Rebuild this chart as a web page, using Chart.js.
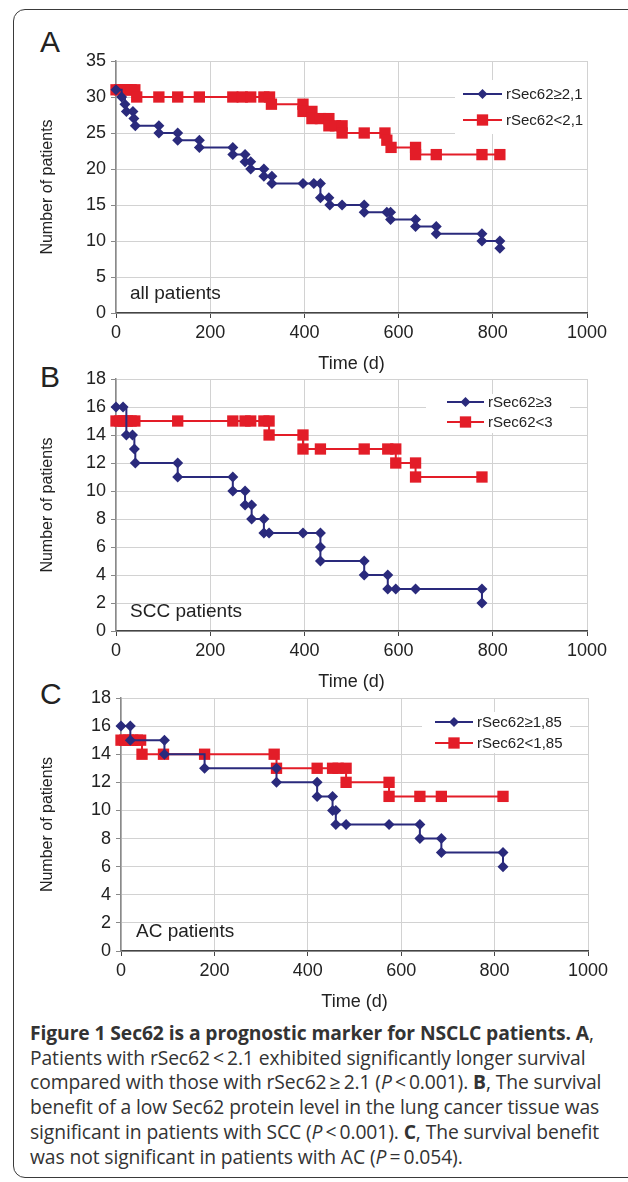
<!DOCTYPE html>
<html>
<head>
<meta charset="utf-8">
<script src="https://cdn.jsdelivr.net/npm/chart.js@4.4.0/dist/chart.umd.min.js"></script>
<style>
body { margin:0; width:628px; height:1182px; background:#fff; position:relative; overflow:hidden; font-family:"Liberation Sans", Arial, sans-serif; }
.frame { position:absolute; left:13px; top:9px; width:660px; height:1167px; border:1.5px solid #3a3a3a; border-radius:12px; }
.panel { position:absolute; left:0; width:628px; }
.letter { position:absolute; left:40px; font-size:30px; line-height:30px; color:#222; }
.caption { position:absolute; left:30px; top:1021px; font-family:"Open Sans", sans-serif; font-size:19.3px; line-height:24.7px; color:#333; white-space:nowrap; letter-spacing:-0.1px; }
</style>
</head>
<body>
<div class="frame"></div>
<div class="letter" style="top:27px">A</div>
<div class="letter" style="top:362px">B</div>
<div class="letter" style="top:679px">C</div>

<div class="panel" style="top:40px;height:337px"><canvas id="chartA"></canvas></div>
<div class="panel" style="top:358px;height:337px"><canvas id="chartB"></canvas></div>
<div class="panel" style="top:677px;height:338px"><canvas id="chartC"></canvas></div>

<div class="caption">
<b>Figure 1 Sec62 is a prognostic marker for NSCLC patients. A</b>,<br>
Patients with rSec62&#8201;&lt;&#8201;2.1 exhibited significantly longer survival<br>
compared with those with rSec62&#8201;&ge;&#8201;2.1 (<i>P</i>&#8201;&lt;&#8201;0.001). <b>B</b>, The survival<br>
benefit of a low Sec62 protein level in the lung cancer tissue was<br>
significant in patients with SCC (<i>P</i>&#8201;&lt;&#8201;0.001). <b>C</b>, The survival benefit<br>
was not significant in patients with AC (<i>P</i>&#8201;=&#8201;0.054).
</div>

<script>
// panel A: all patients
var timeA_hi = [0, 12, 19, 22, 36, 38, 41, 91, 91, 131, 131, 177, 177, 248, 248, 274, 274, 286, 286, 314, 314, 331, 331, 397, 420, 434, 434, 452, 454, 480, 527, 527, 575, 583, 583, 636, 636, 680, 680, 777, 777, 815, 815];
var numA_hi  = [31, 30, 29, 28, 28, 27, 26, 26, 25, 25, 24, 24, 23, 23, 22, 22, 21, 21, 20, 20, 19, 19, 18, 18, 18, 18, 16, 16, 15, 15, 15, 14, 14, 14, 13, 13, 12, 12, 11, 11, 10, 10, 9];
var timeA_lo = [0, 8, 16, 24, 32, 40, 44, 91, 131, 177, 248, 268, 286, 314, 326, 330, 397, 397, 416, 416, 434, 452, 452, 466, 480, 480, 527, 571, 575, 584, 636, 636, 680, 777, 815];
var numA_lo  = [31, 31, 31, 31, 31, 31, 30, 30, 30, 30, 30, 30, 30, 30, 30, 29, 29, 28, 28, 27, 27, 27, 26, 26, 26, 25, 25, 25, 24, 23, 23, 22, 22, 22, 22];

// panel B: SCC patients
var timeB_hi = [0, 15, 22, 35, 39, 41, 131, 131, 248, 248, 274, 274, 288, 288, 314, 314, 325, 397, 434, 434, 434, 527, 527, 577, 577, 594, 636, 777, 777];
var numB_hi  = [16, 16, 14, 14, 13, 12, 12, 11, 11, 10, 10, 9, 9, 8, 8, 7, 7, 7, 7, 6, 5, 5, 4, 4, 3, 3, 3, 3, 2];
var timeB_lo = [0, 8, 16, 24, 32, 40, 131, 248, 274, 286, 314, 325, 325, 397, 397, 434, 527, 577, 594, 594, 636, 636, 777];
var numB_lo  = [15, 15, 15, 15, 15, 15, 15, 15, 15, 15, 15, 15, 14, 14, 13, 13, 13, 13, 13, 12, 12, 11, 11];

// panel C: AC patients
var timeC_hi = [0, 20, 20, 93, 93, 179, 333, 333, 420, 420, 453, 453, 460, 460, 482, 574, 640, 640, 686, 686, 818, 818];
var numC_hi  = [16, 16, 15, 15, 14, 13, 13, 12, 12, 11, 11, 10, 10, 9, 9, 9, 9, 8, 8, 7, 7, 6];
var timeC_lo = [0, 8, 16, 25, 35, 42, 45, 91, 179, 328, 333, 420, 453, 465, 482, 482, 574, 574, 640, 686, 818];
var numC_lo  = [15, 15, 15, 15, 15, 15, 14, 14, 14, 14, 13, 13, 13, 13, 13, 12, 12, 11, 11, 11, 11];

var xTicks = [0, 200, 400, 600, 800, 1000];

var BLUE = '#2a2a7c';
var RED = '#e31d28';
var FONT = '"Liberation Sans", Arial, sans-serif';

function points(xs, ys) {
  var out = [];
  for (var i = 0; i < xs.length; i++) out.push({x: xs[i], y: ys[i]});
  return out;
}

function marker(ctx, style, x, y, r) {
  ctx.beginPath();
  if (style == 'rect') {
    var s = r * Math.SQRT1_2;
    ctx.rect(x - s, y - s, 2 * s, 2 * s);
  } else {
    ctx.moveTo(x - r, y); ctx.lineTo(x, y - r); ctx.lineTo(x + r, y); ctx.lineTo(x, y + r); ctx.closePath();
  }
  ctx.fill();
}

// legend with line + marker, drawn over the grid and under the data
var stepLegend = {
  id: 'stepLegend',
  beforeDatasetsDraw: function(chart, args, o) {
    var ctx = chart.ctx;
    ctx.save();
    ctx.fillStyle = '#fff';
    ctx.fillRect(o.box[0], o.box[1], o.box[2], o.box[3]);
    chart.data.datasets.forEach(function(ds, i) {
      var y = o.rows[i];
      ctx.strokeStyle = ds.borderColor;
      ctx.lineWidth = 2;
      ctx.beginPath(); ctx.moveTo(o.x0, y); ctx.lineTo(o.x1, y); ctx.stroke();
      ctx.fillStyle = ds.borderColor;
      marker(ctx, ds.pointStyle, (o.x0 + o.x1) / 2, y, ds.pointStyle == 'rect' ? 8 : 5);
      ctx.fillStyle = '#222';
      ctx.font = '15px ' + FONT;
      ctx.textBaseline = 'middle';
      ctx.textAlign = 'left';
      ctx.fillText(ds.label, o.x1 + 4, y + 1);
    });
    ctx.restore();
  },
  afterDraw: function(chart, args, o) {
    var ctx = chart.ctx, a = chart.chartArea;
    ctx.save();
    ctx.fillStyle = '#222';
    ctx.font = '19px ' + FONT;
    ctx.textBaseline = 'middle';
    ctx.fillText(o.note, a.left + o.noteDx, a.bottom - 19);
    ctx.restore();
  }
};

function makeChart(id, hi, lo, labels, yMax, yStep, plotLeft, plotRight, legendOpts) {
  var ctx = document.getElementById(id).getContext('2d');
  return new Chart(ctx, {
    type: 'line',
    data: {
      datasets: [
        { label: labels[0], data: points(hi[0], hi[1]), stepped: true, borderColor: BLUE, backgroundColor: BLUE,
          borderWidth: 2, pointStyle: 'rectRot', pointRadius: 5.5, pointBorderWidth: 0, clip: false },
        { label: labels[1], data: points(lo[0], lo[1]), stepped: true, borderColor: RED, backgroundColor: RED,
          borderWidth: 2, pointStyle: 'rect', pointRadius: 8, pointBorderWidth: 0, clip: false }
      ]
    },
    options: {
      responsive: true,
      maintainAspectRatio: false,
      animation: false,
      layout: { padding: { top: 21, right: 628 - plotRight, left: 0, bottom: 0 } },
      plugins: { legend: { display: false }, tooltip: { enabled: false }, stepLegend: legendOpts },
      scales: {
        x: {
          type: 'linear', min: 0, max: 1000,
          afterBuildTicks: function(s) { s.ticks = xTicks.map(function(v) { return {value: v}; }); },
          afterFit: function(s) { s.height = 64; },
          grid: { color: '#d2d2d2', lineWidth: 1, tickLength: 5, tickColor: '#444' },
          border: { color: '#444', width: 1.5 },
          ticks: { color: '#222', font: { family: FONT, size: 18 }, padding: 4, maxRotation: 0,
                   callback: function(v) { return String(v); } },
          title: { display: true, text: 'Time (d)', color: '#222', font: { family: FONT, size: 18 }, padding: { top: 0, bottom: 2 } }
        },
        y: {
          min: 0, max: yMax,
          afterFit: function(s) { s.width = plotLeft; },
          grid: { color: '#d2d2d2', lineWidth: 1, tickLength: 5, tickColor: '#888' },
          border: { color: '#8a8a8a', width: 1.5 },
          ticks: { stepSize: yStep, color: '#222', font: { family: FONT, size: 18 }, padding: 5,
                   callback: function(v) { return String(v); } },
          title: { display: true, text: 'Number of patients', color: '#222', font: { family: FONT, size: 16 }, padding: { top: 38 } }
        }
      }
    },
    plugins: [stepLegend]
  });
}

makeChart('chartA', [timeA_hi, numA_hi], [timeA_lo, numA_lo], ['rSec62\u22652,1', 'rSec62<2,1'], 35, 5, 116, 587,
  { box: [455, 40, 132, 54], rows: [54, 80], x0: 463, x1: 502, note: 'all patients', noteDx: 14 });
makeChart('chartB', [timeB_hi, numB_hi], [timeB_lo, numB_lo], ['rSec62\u22653', 'rSec62<3'], 18, 2, 116, 587,
  { box: [426, 36, 144, 39], rows: [44, 64], x0: 447, x1: 484, note: 'SCC patients', noteDx: 14 });
makeChart('chartC', [timeC_hi, numC_hi], [timeC_lo, numC_lo], ['rSec62\u22651,85', 'rSec62<1,85'], 18, 2, 121, 588,
  { box: [422, 35, 148, 41], rows: [45, 66], x0: 435, x1: 473, note: 'AC patients', noteDx: 15 });
</script>
</body>
</html>
